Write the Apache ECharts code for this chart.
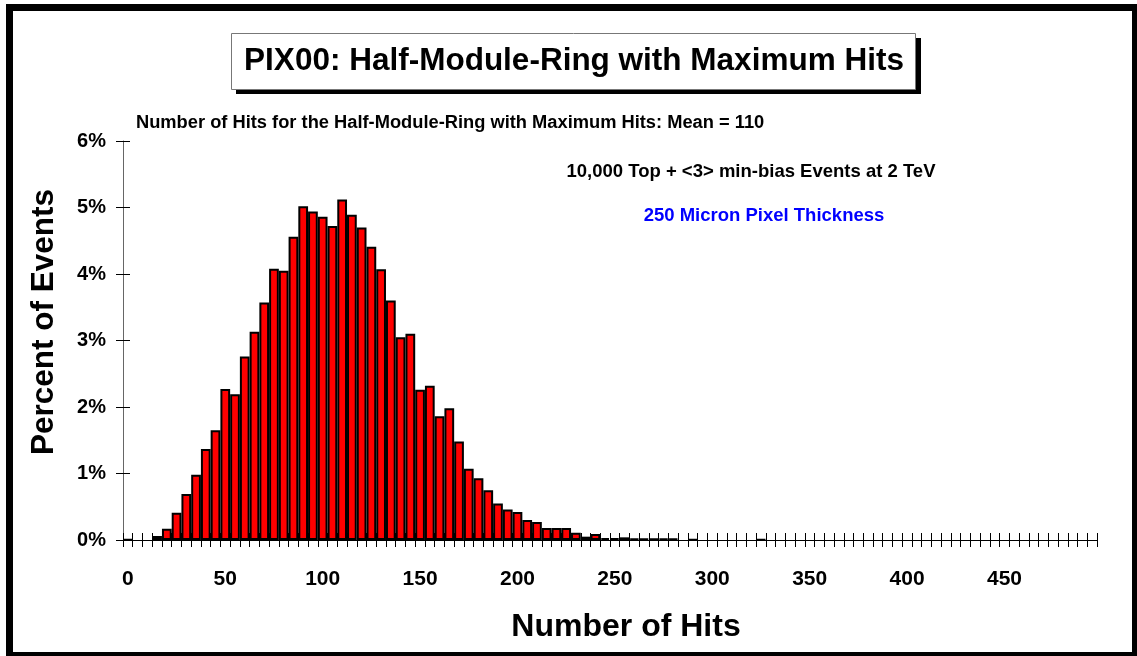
<!DOCTYPE html>
<html>
<head>
<meta charset="utf-8">
<script src="https://cdn.jsdelivr.net/npm/echarts@6/dist/echarts.min.js"></script>
<style>
html,body{margin:0;padding:0;background:#fff;}
#chart{width:1137px;height:656px;}
</style>
</head>
<body>
<div id="chart"></div>
<script>
// Bin lower edges (number of hits, bin width 5)
const binStarts = [];
for (let i = 0; i < 100; i++) binStarts.push(String(i * 5));

// Percent of events per bin
const percentValues = [
  0.01, 0, 0, 0.06, 0.17, 0.41, 0.69, 0.98, 1.37, 1.65,
  2.27, 2.19, 2.76, 3.13, 3.57, 4.08, 4.05, 4.56, 5.02, 4.94,
  4.86, 4.72, 5.12, 4.89, 4.70, 4.41, 4.07, 3.60, 3.05, 3.10,
  2.26, 2.32, 1.86, 1.98, 1.48, 1.07, 0.93, 0.75, 0.55, 0.46,
  0.42, 0.30, 0.27, 0.18, 0.18, 0.18, 0.11, 0.05, 0.09, 0.03,
  0.03, 0.04, 0.02, 0.02, 0.02, 0.02, 0.02, 0, 0.01, 0,
  0, 0, 0, 0, 0, 0.01, 0, 0, 0, 0,
  0, 0, 0, 0, 0, 0, 0, 0, 0, 0,
  0, 0, 0, 0, 0, 0, 0, 0, 0, 0,
  0, 0, 0, 0, 0, 0, 0, 0, 0, 0
];

const yTicks = [0, 1, 2, 3, 4, 5, 6];

const titleText = 'PIX00: Half-Module-Ring with Maximum Hits';
const subtitleText = 'Number of Hits for the Half-Module-Ring with Maximum Hits: Mean = 110';
const note1 = '10,000 Top + <3> min-bias Events at 2 TeV';
const note2 = '250 Micron Pixel Thickness';
const xTitle = 'Number of Hits';
const yTitle = 'Percent of Events';

const FONT = '"Liberation Sans", Arial, sans-serif';
const chart = echarts.init(document.getElementById('chart'), null, {renderer: 'canvas'});

const gridPos = {left: 123, right: 40, top: 141, bottom: 116};

const option = {
  animation: false,
  backgroundColor: '#ffffff',
  grid: Object.assign({containLabel: false}, gridPos),
  xAxis: [{
    type: 'category',
    data: binStarts,
    boundaryGap: true,
    axisLine: {show: true, lineStyle: {color: '#000', width: 1}},
    axisTick: {show: true, interval: 0, inside: false, length: 7, lineStyle: {color: '#000', width: 1}},
    axisLabel: {interval: 9, margin: 29, color: '#000', fontFamily: FONT, fontWeight: 'bold', fontSize: 21},
    splitLine: {show: false}
  }, {
    type: 'category',
    data: binStarts,
    boundaryGap: true,
    position: 'bottom',
    axisLine: {show: false},
    axisTick: {show: true, interval: 0, inside: true, length: 7, lineStyle: {color: '#000', width: 1}},
    axisLabel: {show: false},
    splitLine: {show: false}
  }],
  yAxis: [{
    type: 'value',
    min: 0, max: 6, interval: 1,
    axisLine: {show: true, lineStyle: {color: '#666', width: 1}},
    axisTick: {show: true, inside: false, length: 7, lineStyle: {color: '#000'}},
    axisLabel: {margin: 17, color: '#000', fontFamily: FONT, fontWeight: 'bold', fontSize: 20,
      formatter: v => yTicks.indexOf(v) >= 0 ? v + '%' : ''},
    splitLine: {show: false}
  }, {
    type: 'value',
    position: 'left',
    min: 0, max: 6, interval: 1,
    axisLine: {show: false},
    axisTick: {show: true, inside: true, length: 7, lineStyle: {color: '#000'}},
    axisLabel: {show: false},
    splitLine: {show: false}
  }],
  series: [{
    type: 'bar',
    xAxisIndex: 0,
    yAxisIndex: 0,
    data: percentValues.map(v => v === 0 ? '-' : v),
    barCategoryGap: '0%',
    itemStyle: {color: '#ff0000', borderColor: '#000', borderWidth: 2},
    z: 3
  }],
  graphic: [
    // outer frame
    {type: 'rect', shape: {x: 6, y: 4, width: 1131, height: 7}, style: {fill: '#000'}, silent: true},
    {type: 'rect', shape: {x: 6, y: 4, width: 7, height: 652}, style: {fill: '#000'}, silent: true},
    {type: 'rect', shape: {x: 6, y: 652, width: 1131, height: 4}, style: {fill: '#000'}, silent: true},
    {type: 'rect', shape: {x: 1132, y: 4, width: 5, height: 652}, style: {fill: '#000'}, silent: true},
    // title box with shadow
    {type: 'rect', shape: {x: 236, y: 38, width: 685, height: 56}, style: {fill: '#000'}, silent: true},
    {type: 'rect', shape: {x: 231.5, y: 33.5, width: 684, height: 56}, style: {fill: '#fff', stroke: '#777', lineWidth: 1}, silent: true},
    {type: 'text', x: 574, y: 61, style: {text: titleText, fill: '#000', font: 'bold 31.5px ' + FONT, textAlign: 'center', textVerticalAlign: 'middle'}, silent: true},
    {type: 'text', x: 136, y: 123, style: {text: subtitleText, fill: '#000', font: 'bold 18.3px ' + FONT, textAlign: 'left', textVerticalAlign: 'middle'}, silent: true},
    {type: 'text', x: 751, y: 172, style: {text: note1, fill: '#000', font: 'bold 18.5px ' + FONT, textAlign: 'center', textVerticalAlign: 'middle'}, silent: true},
    {type: 'text', x: 764, y: 216, style: {text: note2, fill: '#0000ff', font: 'bold 18.5px ' + FONT, textAlign: 'center', textVerticalAlign: 'middle'}, silent: true},
    {type: 'text', x: 626, y: 627, style: {text: xTitle, fill: '#000', font: 'bold 32px ' + FONT, textAlign: 'center', textVerticalAlign: 'middle'}, silent: true},
    {type: 'text', x: 44, y: 322, rotation: Math.PI / 2, style: {text: yTitle, fill: '#000', font: 'bold 31.5px ' + FONT, textAlign: 'center', textVerticalAlign: 'middle'}, silent: true}
  ]
};
chart.setOption(option);
</script>
</body>
</html>
